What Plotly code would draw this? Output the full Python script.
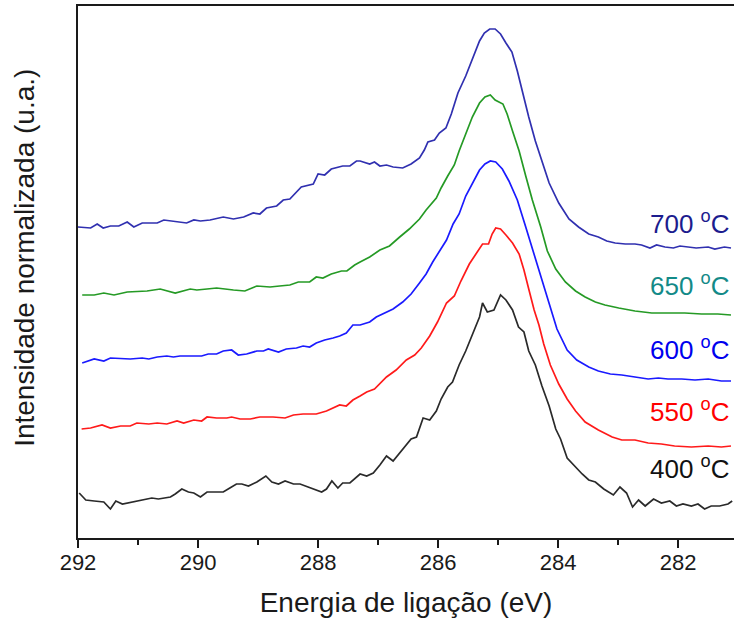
import plotly.graph_objects as go

# C 1s XPS spectra, normalized and vertically offset, for each treatment temperature
energy_700 = [292.00, 291.79, 291.68, 291.58, 291.46, 291.32, 291.18, 291.07, 290.93, 290.68,
              290.57, 290.41, 290.19, 290.07, 289.96, 289.80, 289.58, 289.41, 289.24, 289.08,
              288.97, 288.86, 288.69, 288.58, 288.47, 288.28, 288.08, 288.00, 287.89, 287.78,
              287.59, 287.47, 287.36, 287.30, 287.14, 287.06, 286.97, 286.86, 286.75, 286.59,
              286.45, 286.31, 286.23, 286.17, 286.06, 285.98, 285.87, 285.78, 285.67, 285.54,
              285.43, 285.31, 285.23, 285.14, 285.05, 284.96, 284.87, 284.77, 284.68, 284.60,
              284.49, 284.38, 284.29, 284.15, 283.99, 283.82, 283.66, 283.49, 283.33, 283.19,
              283.05, 282.88, 282.72, 282.61, 282.47, 282.36, 282.22, 282.08, 281.97, 281.83,
              281.70, 281.50, 281.39, 281.23, 281.12]
intensity_700 = [3.11, 3.10, 3.14, 3.10, 3.12, 3.12, 3.16, 3.11, 3.15, 3.15,
                 3.18, 3.17, 3.15, 3.18, 3.17, 3.18, 3.21, 3.19, 3.21, 3.25,
                 3.24, 3.30, 3.32, 3.38, 3.39, 3.51, 3.54, 3.64, 3.63, 3.69,
                 3.72, 3.72, 3.77, 3.77, 3.74, 3.76, 3.72, 3.73, 3.71, 3.70,
                 3.74, 3.80, 3.88, 3.96, 3.98, 4.05, 4.10, 4.24, 4.45, 4.62,
                 4.79, 4.97, 5.05, 5.09, 5.09, 5.04, 4.95, 4.86, 4.67, 4.47,
                 4.21, 3.97, 3.80, 3.55, 3.35, 3.19, 3.11, 3.04, 3.01, 2.97,
                 2.95, 2.94, 2.94, 2.93, 2.90, 2.93, 2.91, 2.90, 2.92, 2.91,
                 2.90, 2.91, 2.89, 2.91, 2.90]

energy_650 = [291.93, 291.73, 291.57, 291.40, 291.18, 290.85, 290.63, 290.38, 290.13, 290.02,
              289.85, 289.69, 289.41, 289.22, 289.02, 288.80, 288.64, 288.47, 288.33, 288.14,
              288.03, 287.92, 287.78, 287.61, 287.52, 287.39, 287.30, 287.14, 286.97, 286.81,
              286.64, 286.48, 286.31, 286.20, 286.03, 285.95, 285.84, 285.73, 285.65, 285.54,
              285.43, 285.31, 285.22, 285.13, 285.05, 284.92, 284.85, 284.76, 284.65, 284.54,
              284.43, 284.29, 284.18, 284.04, 283.88, 283.71, 283.55, 283.38, 283.22, 282.99,
              282.72, 282.44, 282.17, 281.89, 281.61, 281.34, 281.12]
intensity_650 = [2.43, 2.43, 2.45, 2.43, 2.46, 2.47, 2.49, 2.45, 2.49, 2.48,
                 2.49, 2.50, 2.48, 2.47, 2.52, 2.51, 2.52, 2.53, 2.56, 2.56,
                 2.61, 2.60, 2.64, 2.67, 2.67, 2.73, 2.76, 2.81, 2.88, 2.92,
                 3.01, 3.09, 3.19, 3.28, 3.40, 3.50, 3.62, 3.73, 3.87, 4.04,
                 4.21, 4.35, 4.41, 4.43, 4.38, 4.34, 4.24, 4.07, 3.87, 3.62,
                 3.38, 3.11, 2.87, 2.69, 2.56, 2.47, 2.41, 2.36, 2.33, 2.30,
                 2.27, 2.25, 2.25, 2.25, 2.24, 2.24, 2.23]

energy_600 = [291.93, 291.73, 291.57, 291.46, 291.13, 290.93, 290.82, 290.68, 290.52, 290.41,
              290.30, 290.13, 289.94, 289.83, 289.69, 289.58, 289.44, 289.33, 289.19, 289.02,
              288.91, 288.83, 288.66, 288.53, 288.36, 288.25, 288.14, 288.03, 287.89, 287.75,
              287.64, 287.53, 287.42, 287.30, 287.14, 287.03, 286.89, 286.75, 286.59, 286.45,
              286.31, 286.20, 286.09, 285.98, 285.86, 285.75, 285.65, 285.54, 285.43, 285.31,
              285.22, 285.13, 285.04, 284.93, 284.82, 284.68, 284.54, 284.40, 284.28, 284.15,
              284.02, 283.85, 283.69, 283.49, 283.33, 283.13, 282.94, 282.72, 282.50, 282.33,
              282.17, 281.94, 281.72, 281.50, 281.28, 281.12]
intensity_600 = [1.75, 1.79, 1.77, 1.80, 1.79, 1.80, 1.79, 1.81, 1.82, 1.81,
                 1.82, 1.82, 1.82, 1.84, 1.84, 1.87, 1.88, 1.83, 1.84, 1.87,
                 1.87, 1.89, 1.86, 1.89, 1.90, 1.92, 1.91, 1.95, 1.98, 2.00,
                 2.02, 2.05, 2.13, 2.13, 2.16, 2.21, 2.25, 2.29, 2.36, 2.44,
                 2.55, 2.64, 2.76, 2.87, 2.98, 3.14, 3.24, 3.42, 3.55, 3.68,
                 3.74, 3.77, 3.76, 3.69, 3.57, 3.38, 3.11, 2.83, 2.59, 2.35,
                 2.09, 1.88, 1.78, 1.71, 1.67, 1.64, 1.63, 1.61, 1.59, 1.60,
                 1.59, 1.59, 1.58, 1.59, 1.57, 1.57]

energy_550 = [291.94, 291.79, 291.60, 291.46, 291.29, 291.13, 291.02, 290.82, 290.68, 290.52,
              290.35, 290.24, 290.07, 289.94, 289.85, 289.69, 289.52, 289.44, 289.30, 289.13,
              288.97, 288.75, 288.55, 288.41, 288.25, 288.03, 287.86, 287.75, 287.64, 287.53,
              287.42, 287.30, 287.19, 287.06, 286.97, 286.86, 286.70, 286.53, 286.39, 286.28,
              286.14, 286.01, 285.86, 285.73, 285.62, 285.48, 285.37, 285.26, 285.16, 285.10,
              285.04, 284.96, 284.87, 284.76, 284.65, 284.57, 284.49, 284.40, 284.32, 284.24,
              284.13, 283.99, 283.85, 283.71, 283.55, 283.33, 283.10, 282.94, 282.72, 282.50,
              282.28, 282.06, 281.78, 281.50, 281.28, 281.12]
intensity_550 = [1.09, 1.10, 1.13, 1.10, 1.12, 1.12, 1.15, 1.14, 1.15, 1.14,
                 1.17, 1.15, 1.18, 1.17, 1.21, 1.20, 1.20, 1.21, 1.19, 1.19,
                 1.21, 1.21, 1.20, 1.23, 1.24, 1.24, 1.27, 1.30, 1.33, 1.32,
                 1.38, 1.42, 1.46, 1.49, 1.54, 1.61, 1.68, 1.78, 1.83, 1.90,
                 2.02, 2.16, 2.35, 2.42, 2.57, 2.74, 2.84, 2.94, 2.94, 3.04,
                 3.10, 3.09, 3.03, 2.95, 2.84, 2.68, 2.49, 2.28, 2.13, 1.94,
                 1.73, 1.54, 1.39, 1.27, 1.16, 1.08, 1.01, 0.98, 0.98, 0.95,
                 0.94, 0.92, 0.91, 0.92, 0.91, 0.92]

energy_400 = [291.98, 291.87, 291.73, 291.57, 291.46, 291.37, 291.26, 291.18, 291.04, 290.90,
              290.77, 290.66, 290.46, 290.38, 290.27, 290.16, 290.07, 289.96, 289.85, 289.69,
              289.58, 289.47, 289.36, 289.27, 289.16, 289.02, 288.87, 288.77, 288.66, 288.55,
              288.41, 288.30, 288.17, 288.06, 287.94, 287.86, 287.77, 287.67, 287.59, 287.47,
              287.36, 287.30, 287.19, 287.08, 286.97, 286.86, 286.75, 286.61, 286.45, 286.36,
              286.25, 286.14, 286.03, 285.95, 285.84, 285.76, 285.65, 285.54, 285.40, 285.31,
              285.26, 285.18, 285.07, 284.96, 284.87, 284.76, 284.66, 284.57, 284.49, 284.38,
              284.27, 284.15, 284.04, 283.96, 283.85, 283.71, 283.60, 283.49, 283.38, 283.24,
              283.08, 282.97, 282.86, 282.76, 282.66, 282.55, 282.41, 282.28, 282.14, 282.03,
              281.92, 281.78, 281.67, 281.56, 281.45, 281.31, 281.17, 281.10]
intensity_400 = [0.45, 0.38, 0.37, 0.36, 0.29, 0.37, 0.34, 0.35, 0.37, 0.38,
                 0.40, 0.39, 0.41, 0.44, 0.49, 0.46, 0.45, 0.41, 0.46, 0.46,
                 0.46, 0.50, 0.54, 0.54, 0.52, 0.56, 0.62, 0.56, 0.54, 0.57,
                 0.54, 0.54, 0.51, 0.49, 0.46, 0.49, 0.57, 0.50, 0.55, 0.55,
                 0.61, 0.64, 0.62, 0.65, 0.73, 0.82, 0.77, 0.87, 0.99, 1.01,
                 1.20, 1.18, 1.27, 1.39, 1.51, 1.56, 1.73, 1.87, 2.07, 2.21,
                 2.35, 2.26, 2.28, 2.43, 2.38, 2.28, 2.11, 2.06, 1.87, 1.73,
                 1.52, 1.32, 1.09, 0.99, 0.80, 0.71, 0.64, 0.58, 0.56, 0.49,
                 0.43, 0.51, 0.45, 0.31, 0.38, 0.32, 0.39, 0.35, 0.37, 0.32,
                 0.34, 0.32, 0.34, 0.29, 0.32, 0.32, 0.34, 0.37]

series = [
    ("400", energy_400, intensity_400, "#2a2a2a", "#111111", 0.71),
    ("550", energy_550, intensity_550, "#ff1a1a", "#ff0000", 1.28),
    ("600", energy_600, intensity_600, "#1a1aff", "#0000ee", 1.90),
    ("650", energy_650, intensity_650, "#259a25", "#138a88", 2.54),
    ("700", energy_700, intensity_700, "#3030b0", "#1c1c8e", 3.16),
]

FONT = "Liberation Sans, Arial, sans-serif"

fig = go.Figure()
annotations = []
for name, xs, ys, line_color, text_color, label_y in series:
    fig.add_trace(go.Scatter(
        x=xs, y=ys, mode="lines", name=f"{name} °C",
        line=dict(color=line_color, width=1.7),
        showlegend=False,
    ))
    annotations.append(dict(
        x=281.11, y=label_y, xref="x", yref="y",
        text=f"{name} <sup>o</sup>C", showarrow=False,
        xanchor="right", yanchor="middle",
        font=dict(family=FONT, size=26, color=text_color),
    ))

# vertical axis title, placed in paper coordinates
annotations.append(dict(
    x=-0.082, y=0.527, xref="paper", yref="paper",
    text="Intensidade normalizada (u.a.)", showarrow=False, textangle=-90,
    xanchor="center", yanchor="middle",
    font=dict(family=FONT, size=28, color="#1a1a1a"),
))

fig.update_layout(
    width=734, height=625,
    margin=dict(l=78, r=0, t=6, b=87),
    paper_bgcolor="white", plot_bgcolor="white",
    annotations=annotations,
    font=dict(family=FONT, color="#1a1a1a"),
)

fig.update_xaxes(
    range=[292, 281.07],
    showline=True, linecolor="#1a1a1a", linewidth=2, mirror=True,
    showgrid=False, zeroline=False,
    ticks="outside", ticklen=8, tickwidth=1.5, tickcolor="#1a1a1a",
    tick0=292, dtick=2,
    minor=dict(ticks="outside", ticklen=5, tickwidth=1.5, tickcolor="#1a1a1a", dtick=1, showgrid=False),
    tickfont=dict(family=FONT, size=22, color="#1a1a1a"),
    ticklabelstandoff=-4,
    title=dict(text="Energia de ligação (eV)", font=dict(family=FONT, size=28, color="#1a1a1a"), standoff=18),
)

fig.update_yaxes(
    range=[0, 5.32],
    showline=True, linecolor="#1a1a1a", linewidth=2, mirror=False,
    showgrid=False, zeroline=False,
    showticklabels=False, ticks="",
)

fig.write_html("out.html")
